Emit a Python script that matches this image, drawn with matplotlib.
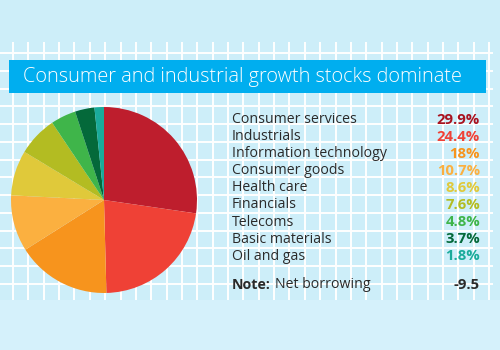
import matplotlib
matplotlib.use("Agg")
import matplotlib.pyplot as plt
from matplotlib.patches import Rectangle

categories = ["Consumer services", "Industrials", "Information technology",
              "Consumer goods", "Health care", "Financials", "Telecoms",
              "Basic materials", "Oil and gas"]
values = [29.9, 24.4, 18, 10.7, 8.6, 7.6, 4.8, 3.7, 1.8]
value_labels = ["29.9%", "24.4%", "18%", "10.7%", "8.6%", "7.6%", "4.8%", "3.7%", "1.8%"]
note_label = "Net borrowing"
note_value = "-9.5"
title = "Consumer and industrial growth stocks dominate"

slice_colors = ["#be1e2d", "#ef4136", "#f7941d", "#fbb040", "#e0c93a",
                "#b3bc22", "#3fb54a", "#04693a", "#1aab9b"]
text_colors = ["#a8121f", "#ef4136", "#f7941d", "#fbb040", "#e0c93a",
               "#b3bc22", "#3fb54a", "#04693a", "#1aab9b"]

W, H = 500, 350
fig = plt.figure(figsize=(5, 3.5), dpi=100)
fig.patch.set_facecolor("#cdeef9")

bg = fig.add_axes([0, 0, 1, 1])
bg.set_xlim(0, W)
bg.set_ylim(H, 0)
bg.axis("off")

# lower lighter band
bg.add_patch(Rectangle((0, 300), W, 50, facecolor="#d5f1fb", edgecolor="none", zorder=0))

# grid
gx0, gx1, gy0, gy1 = 0, 493, 42, 300
x = 13.0
while x <= gx1:
    bg.plot([x, x], [gy0, gy1], color="white", lw=1.4, solid_capstyle="butt", zorder=1)
    x += 15.36
y = 53.0
while y <= gy1 - 5:
    bg.plot([gx0, gx1], [y, y], color="white", lw=1.4, solid_capstyle="butt", zorder=1)
    y += 17.77

# title banner
bg.add_patch(Rectangle((9, 60), 477, 33, facecolor="#00aeef", edgecolor="none", zorder=3))
bg.text(23, 77, title, color="white", fontsize=14.3, family="Open Sans",
        fontweight="light", ha="left", va="center", zorder=4)

# legend list
fam = "Open Sans"
fs = 10.2
for i, (c, v, tc) in enumerate(zip(categories, value_labels, text_colors)):
    yy = 119.5 + i * 17.1
    bg.text(232, yy, c, fontsize=fs, family=fam, color="#2a2a2a",
            ha="left", va="center", zorder=4)
    bg.text(480, yy, v, fontsize=fs + 0.5, family=fam, color=tc, fontweight="bold",
            ha="right", va="center", zorder=4)
bg.text(232, 285, "Note:", fontsize=fs, family=fam, color="#2a2a2a",
        fontweight="bold", ha="left", va="center", zorder=4)
bg.text(275, 285, note_label, fontsize=fs, family=fam, color="#2a2a2a",
        ha="left", va="center", zorder=4)
bg.text(480, 285, note_value, fontsize=fs + 0.5, family=fam, color="#2a2a2a",
        fontweight="bold", ha="right", va="center", zorder=4)

# pie
cx, cy, r = 104, 200, 93
pax = fig.add_axes([(cx - r) / W, (H - cy - r) / H, 2 * r / W, 2 * r / H])
pax.pie(values, colors=slice_colors, startangle=90, counterclock=False,
        radius=1, wedgeprops=dict(linewidth=0))
pax.set_xlim(-1, 1)
pax.set_ylim(-1, 1)
pax.set_aspect("equal")
pax.axis("off")

fig.savefig("out.png", dpi=100, facecolor=fig.get_facecolor())
